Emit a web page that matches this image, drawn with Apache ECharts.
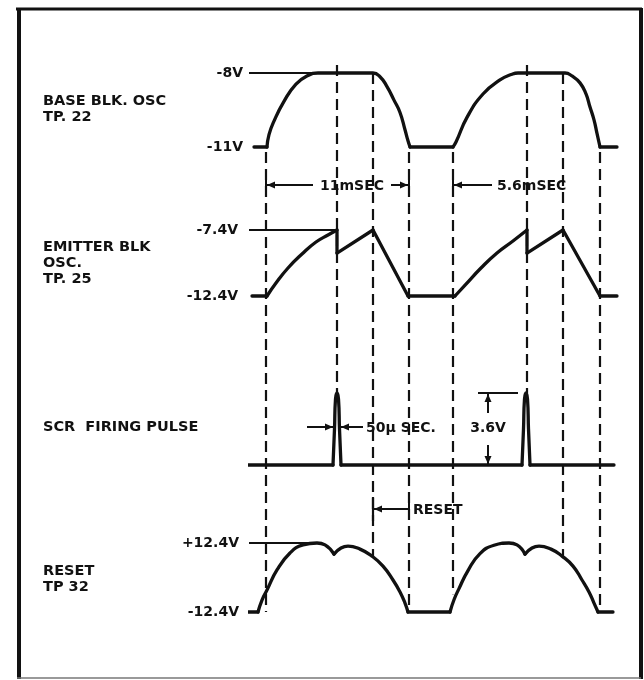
<!DOCTYPE html>
<html>
<head>
<meta charset="utf-8">
<title>timing diagram</title>
<script src="https://cdn.jsdelivr.net/npm/echarts@6/dist/echarts.min.js"></script>
<style>
  html, body { margin: 0; padding: 0; background: #fff; }
  #main { width: 644px; height: 680px; }
</style>
</head>
<body>
<div id="main"></div>
<script>
// time in schematic units, t = 0 at the start of the first cycle
var guideT = [0, 71, 107, 143, 187, 261, 297, 334];
// level on BASE BLK OSC where each guide starts
var guideFrom = [-11, -8, -8, -11, -11, -8, -8, -11];
// [trace, volts] where each guide ends
var guideTo = [[3, -12.4], [2, 3.6], [3, 7.6], [3, -12.4], [3, -6], [2, 3.6], [3, 7.4], [3, -12.4]];

// trace names
var traceNames = [
  ["BASE BLK. OSC", "TP. 22"],
  ["EMITTER BLK", "OSC.", "TP. 25"],
  ["SCR  FIRING PULSE"],
  ["RESET", "TP 32"]
];

// voltage levels written on each trace
var baseLevels = [-11, -8];
var emitterLevels = [-12.4, -7.4];
var scrLevels = [0, 3.6];
var resetLevels = [-12.4, 12.4];

// waveforms [t, volts], corners = indices of sharp points
var baseOsc = [
  [-12, -11], [1, -11], [3, -10.5], [8, -9.95], [18, -9.15], [30, -8.45], [42, -8.1], [52, -8],
  [107, -8], [114, -8.15], [121, -8.55], [128, -9.1], [134, -9.6], [139, -10.3], [142, -10.75], [144, -11],
  [187, -11], [190, -10.8], [201, -9.8], [217, -8.85], [234, -8.28], [246, -8.05], [252, -8],
  [299, -8], [306, -8.12], [314, -8.4], [320, -8.85], [324, -9.38], [328, -9.9], [331, -10.45], [334, -11],
  [351, -11]
];
var baseCorners = [1, 15, 16, 30];

var emitterOsc = [
  [-14, -12.4], [1, -12.4], [10, -11.42], [22, -10.28], [36, -9.22], [50, -8.31], [62, -7.78], [71, -7.4],
  [71, -9.15], [107, -7.4], [142, -12.4],
  [189, -12.4], [200, -11.5], [215, -10.28], [231, -9.14], [247, -8.23], [261, -7.4],
  [261, -9.15], [297, -7.4], [334, -12.4], [351, -12.4]
];
var emitterCorners = [1, 7, 8, 9, 10, 11, 16, 17, 18, 19];

var scrPulse = [
  [-23, 0], [67, 0], [68.5, 1.8], [69.5, 3.3], [71, 3.6], [72.5, 3.3], [73.5, 1.8], [75, 0],
  [256, 0], [257.5, 1.8], [258.5, 3.3], [260, 3.6], [261.5, 3.3], [262.5, 1.8], [264, 0],
  [348, 0]
];
var scrCorners = [1, 7, 8, 14];

var resetWave = [
  [-19, -12.4], [-8, -12.4], [-4, -8.1], [1, -4.5], [11, 2.7], [24, 8.8], [37, 11.7], [51, 12.4], [59, 11.7], [68, 8.4],
  [75, 10.6], [82, 11.3], [94, 10.2], [106, 7.7], [117, 4.1], [127, -0.9], [134, -5.2], [139, -9.2], [142, -12.4],
  [184, -12.4], [188, -8], [193, -4], [202, 2.5], [214, 8.6], [228, 11.6], [243, 12.4], [251, 11.7], [259, 8.4],
  [266, 10.6], [273, 11.3], [285, 10.2], [296, 7.7], [307, 4.1], [316, -0.9], [323, -5.2], [328, -9.2], [332, -12.4],
  [347, -12.4]
];
var resetCorners = [1, 9, 18, 19, 27, 36];

// thin leader lines from the level labels
var baseLeader = [[-19, -8], [50, -8]];
var emitterLeader = [[-27, -7.4], [71, -7.4]];
var resetLeader = [[-24, 12.4], [44, 12.4]];

(function () {
  var ink = "#111";
  var font = "DejaVu Sans";
  var chart = echarts.init(document.getElementById("main"));

  // split a path at its corners so only the curved parts get smoothed
  function pieces(path, corners) {
    var out = [];
    var start = 0;
    corners.concat([path.length - 1]).forEach(function (c) {
      if (c > start) {
        out.push(path.slice(start, c + 1));
        start = c;
      }
    });
    return out;
  }

  function waveSeries(path, corners, g) {
    return pieces(path, corners).map(function (seg) {
      return {
        type: "line",
        xAxisIndex: g,
        yAxisIndex: g,
        data: seg,
        smooth: seg.length > 2 ? 0.5 : false,
        symbol: "none",
        clip: false,
        silent: true,
        lineStyle: { color: ink, width: 3.3, cap: "round", join: "round" },
      };
    });
  }

  function leaderSeries(path, g) {
    return {
      type: "line",
      xAxisIndex: g,
      yAxisIndex: g,
      data: path,
      symbol: "none",
      clip: false,
      silent: true,
      lineStyle: { color: ink, width: 2 },
    };
  }

  function yAxis(g, levels, margin) {
    var lo = levels[0], hi = levels[1];
    return {
      type: "value",
      gridIndex: g,
      min: lo,
      max: hi,
      axisLine: { show: false },
      axisTick: { show: false },
      splitLine: { show: false },
      axisLabel: {
        show: margin > 0,
        margin: margin,
        customValues: levels,
        color: ink,
        fontFamily: font,
        fontWeight: "bold",
        fontSize: 14,
        formatter: function (v) {
          if (Math.abs(v - lo) > 1e-6 && Math.abs(v - hi) > 1e-6) return "";
          return (v > 0 ? "+" : "") + v + "V";
        },
      },
    };
  }

  var gridTops = [73, 230, 393, 543];
  var gridHeights = [74, 66, 72, 69];
  var grids = [], xAxes = [];
  for (var i = 0; i < 4; i++) {
    grids.push({ left: 250, right: 4, top: gridTops[i], height: gridHeights[i] });
    xAxes.push({ type: "value", gridIndex: i, min: -16, max: 374, show: false });
  }

  var series = []
    .concat(waveSeries(baseOsc, baseCorners, 0))
    .concat(waveSeries(emitterOsc, emitterCorners, 1))
    .concat(waveSeries(scrPulse, scrCorners, 2))
    .concat(waveSeries(resetWave, resetCorners, 3))
    .concat([leaderSeries(baseLeader, 0), leaderSeries(emitterLeader, 1), leaderSeries(resetLeader, 3)]);

  var option = {
    animation: false,
    backgroundColor: "#fff",
    grid: grids,
    xAxis: xAxes,
    yAxis: [
      yAxis(0, baseLevels, 7),
      yAxis(1, emitterLevels, 12),
      yAxis(2, scrLevels, 0),
      yAxis(3, resetLevels, 11),
    ],
    series: series,
  };
  chart.setOption(option);

  // ---- annotations drawn on top, placed through the axes ----
  function px(g, t, v) {
    return chart.convertToPixel({ gridIndex: g }, [t, v]);
  }
  function xAt(t) {
    return px(0, t, -8)[0];
  }
  var gfx = [];
  function line(x1, y1, x2, y2, w, dash, color) {
    gfx.push({
      type: "line",
      silent: true,
      shape: { x1: x1, y1: y1, x2: x2, y2: y2 },
      style: { stroke: color || ink, lineWidth: w, lineDash: dash || null },
    });
  }
  function arrow(x, y, dir) {
    var L = 8, W = 3.5, p;
    if (dir === "l") p = [[x, y], [x + L, y - W], [x + L, y + W]];
    if (dir === "r") p = [[x, y], [x - L, y - W], [x - L, y + W]];
    if (dir === "u") p = [[x, y], [x - W, y + L], [x + W, y + L]];
    if (dir === "d") p = [[x, y], [x - W, y - L], [x + W, y - L]];
    gfx.push({ type: "polygon", silent: true, shape: { points: p }, style: { fill: ink } });
  }
  function text(s, x, y, align, size) {
    gfx.push({
      type: "text",
      silent: true,
      x: x,
      y: y,
      style: {
        text: s,
        fill: ink,
        font: "bold " + (size || 14) + "px '" + font + "'",
        align: align || "left",
        verticalAlign: "middle",
      },
    });
  }

  // frame
  line(16, 9, 642, 9, 3);
  line(19, 8, 19, 679, 4);
  line(641, 8, 641, 679, 4);
  line(17, 678, 641, 678, 1.5, null, "#777");

  // dashed guides
  var startGap = [5, -8, 0, 5, 5, -8, 0, 5];
  guideT.forEach(function (t, k) {
    var top = px(0, t, guideFrom[k]);
    var bot = px(guideTo[k][0], t, guideTo[k][1]);
    line(top[0], top[1] + startGap[k], bot[0], bot[1], 2.2, [11, 6]);
  });

  // trace names
  var nameY = [101, 247, 427, 571];
  traceNames.forEach(function (rows, k) {
    rows.forEach(function (s, r) {
      text(s, 43, nameY[k] + r * 16, "left", 14.5);
    });
  });

  // 11mSEC
  var a = xAt(guideT[0]), b = xAt(guideT[3]);
  line(a, 178, a, 193, 2);
  line(b, 178, b, 193, 2);
  line(a, 185, 313, 185, 2);
  line(391, 185, b, 185, 2);
  arrow(a + 1, 185, "l");
  arrow(b - 1, 185, "r");
  text("11mSEC", 352, 186, "center");

  // 5.6mSEC
  var c = xAt(guideT[4]);
  line(c, 178, c, 193, 2);
  line(c, 185, 492, 185, 2);
  arrow(c + 1, 185, "l");
  text("5.6mSEC", 497, 186);

  // 50μSEC. around the first pulse
  var p = xAt(scrPulse[4][0]);
  line(p - 30, 427, p - 4, 427, 2);
  arrow(p - 4, 427, "r");
  line(p + 4, 427, p + 26, 427, 2);
  arrow(p + 4, 427, "l");
  text("50\u03bc SEC.", 366, 428);

  // 3.6V height of the second pulse
  var top = px(2, 222, scrLevels[1]), bot = px(2, 222, scrLevels[0]);
  line(top[0] - 10, top[1], top[0] + 30, top[1], 2);
  line(top[0], top[1], top[0], top[1] + 20, 2);
  line(bot[0], bot[1] - 20, bot[0], bot[1], 2);
  arrow(top[0], top[1] + 1, "u");
  arrow(bot[0], bot[1] - 1, "d");
  text("3.6V", top[0], 428, "center");

  // RESET
  var r0 = xAt(guideT[2]), r1 = xAt(guideT[3]);
  line(r0, 497, r0, 521, 2.2);
  line(r1, 499, r1, 519, 2);
  line(r0, 509, r1, 509, 2);
  arrow(r0 + 1, 509, "l");
  text("RESET", r1 + 4, 510);

  chart.setOption({ graphic: gfx });
})();
</script>
</body>
</html>
